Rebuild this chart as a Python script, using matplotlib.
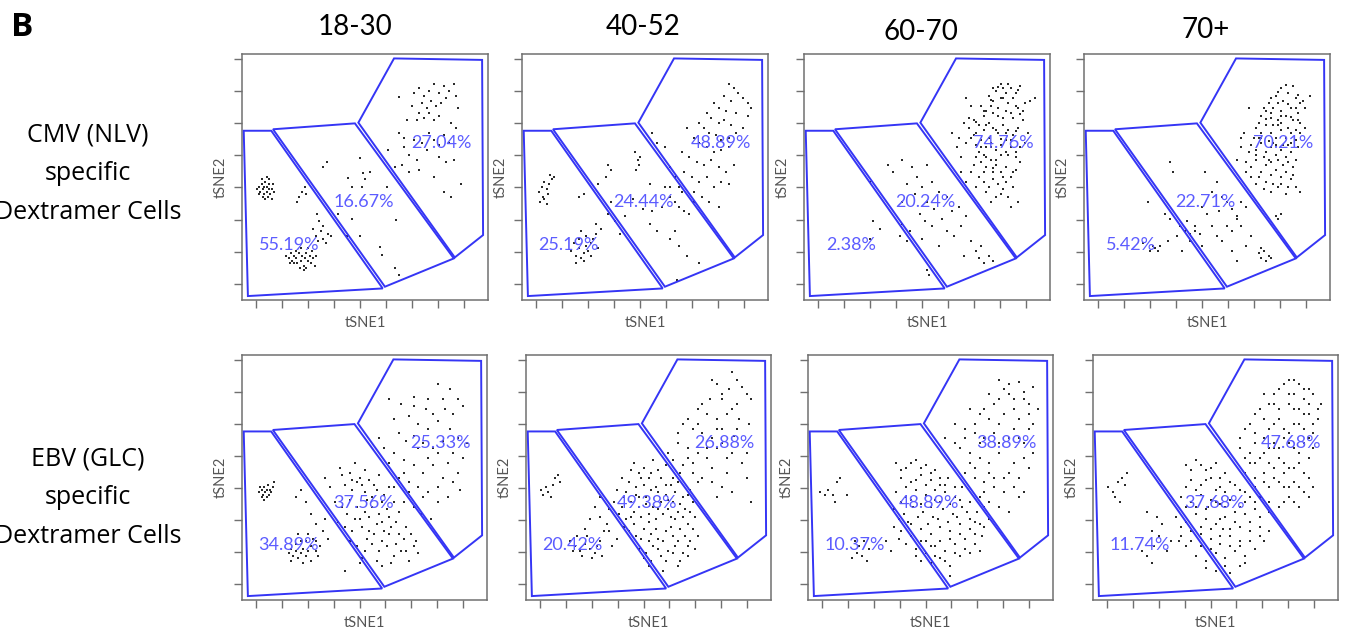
import matplotlib
matplotlib.use("Agg")
import matplotlib.pyplot as plt
from matplotlib.patches import Polygon

# ---- panel layout labels ----
age_groups = ["18-30", "40-52", "60-70", "70+"]
row_labels = ["CMV (NLV)\nspecific\nDextramer Cells", "EBV (GLC)\nspecific\nDextramer Cells"]

# gate percentages (left, middle, right gate) per row / age group
cmv_pct = [["55.19%", "16.67%", "27.04%"],
           ["25.19%", "24.44%", "48.89%"],
           ["2.38%", "20.24%", "74.76%"],
           ["5.42%", "22.71%", "70.21%"]]
ebv_pct = [["34.89%", "37.56%", "25.33%"],
           ["20.42%", "49.38%", "26.88%"],
           ["10.37%", "48.89%", "38.89%"],
           ["11.74%", "37.68%", "47.68%"]]

# gate outlines on the tSNE plane (0-100 scale)
gate_left = [(0.7, 68.8), (11.9, 68.8), (57.2, 4.7), (2.4, 1.6)]
gate_mid = [(12.6, 69.4), (45.9, 71.8), (86.1, 16.9), (58.1, 5.4)]
gate_right = [(47.3, 72.1), (61.8, 98.2), (97.6, 97.6), (98.0, 26.4), (86.5, 17.3)]

# ---- cell events (tSNE1, tSNE2) ----
cmv_18_30 = [
    (6, 45), (7, 46), (7.5, 44), (8, 47), (8.5, 45), (9, 43), (9, 46), (9.5, 48), (10, 44), (10, 46),
    (10.5, 42), (11, 45), (11, 47), (11.5, 43), (12, 45), (12, 41), (8, 49), (10, 50), (13, 44), (7, 43),
    (9.5, 41), (11, 49), (12.5, 47), (8.5, 42),
    (23, 42), (24.5, 44), (26, 43), (25.5, 46), (22.5, 40),
    (18, 18), (19, 17), (20, 19), (20.5, 16), (21, 18), (22, 17), (22.5, 15), (23, 19), (24, 16), (24.5, 18),
    (25, 14), (25.5, 17), (26, 19), (27, 16), (27.5, 18), (28, 15), (28.5, 20), (29, 17), (30, 18), (21, 15),
    (23.5, 13), (26, 13), (19.5, 15), (24, 21), (27, 21), (22, 20), (25, 12), (29.5, 14),
    (30, 26), (31, 24), (32, 28), (33, 25), (34, 23), (35, 27), (33, 30), (31.5, 32), (30.5, 35), (29, 29), (36, 26),
    (33, 54), (34.7, 56), (43, 49.5), (44.6, 46), (49.3, 51.5), (50, 49), (52, 52), (48, 57.6), (48.6, 46),
    (39, 35), (44.6, 33), (42.6, 26), (48, 26), (56, 21.7), (57, 18.3), (62.8, 32.5), (62, 13), (64, 10),
    (58.8, 46), (59.5, 61), (62, 54), (64, 82.6),
    (70, 84), (72, 86), (74, 83), (76, 85), (78, 88), (80, 84), (82, 87), (84, 85), (86, 88), (87, 83),
    (73, 80), (75, 78), (77, 81), (79, 79), (81, 80), (83, 82), (72, 76), (74, 74), (76, 76), (78, 73),
    (80, 75), (69, 79), (71, 73), (85, 72), (87, 70), (76, 68), (78, 65), (80, 63), (82, 67), (84, 64),
    (73, 64), (75, 61), (71, 57), (66, 62), (68, 59), (65, 55), (68, 52), (72, 53), (80, 58), (83, 56),
    (86, 57), (78, 50), (82, 44), (85, 42), (89, 47), (64, 68), (66, 66), (67, 73), (70, 65), (88, 78),
]
cmv_40_52 = [
    (7, 44), (8, 46), (8.5, 42), (9, 48), (10, 45), (10.5, 43), (11, 47), (9, 41), (12, 49), (11.5, 51),
    (13, 50), (7.5, 40), (10, 39),
    (20, 20), (22, 18), (23, 21), (24, 17), (25, 19), (26, 22), (27, 20), (28, 23), (29, 25), (30, 27),
    (31, 21), (25, 16), (21, 23), (23, 25), (28, 18), (24, 28), (26, 26), (32, 29), (30, 31), (22, 15),
    (23, 42), (25, 43), (34, 50), (36, 53), (35, 55), (31, 47), (36, 40), (35, 35),
    (46, 60), (47, 57), (47.5, 55), (48, 58), (46.5, 53), (52, 47), (58, 46), (60, 46), (45, 41), (49, 37),
    (53, 36), (57, 38), (60, 42), (64, 38), (68, 35), (52, 31), (55, 28), (60, 25), (62, 28), (64, 22),
    (67, 18), (72, 15), (38, 32), (42, 34), (40, 27), (63, 8), (65, 44), (70, 40),
    (84, 88), (86, 86), (88, 84), (82, 83), (85, 81), (90, 82), (92, 80), (93, 78), (78, 80), (80, 78),
    (83, 77), (87, 76), (75, 76), (77, 74), (80, 72), (82, 73), (85, 71), (72, 72), (74, 70), (76, 68),
    (79, 67), (81, 65), (84, 66), (87, 68), (70, 66), (72, 64), (75, 62), (78, 60), (81, 61), (84, 62),
    (68, 58), (71, 56), (74, 55), (77, 57), (80, 54), (83, 52), (86, 55), (66, 52), (69, 50), (72, 48),
    (75, 50), (78, 46), (81, 48), (84, 47), (70, 44), (73, 42), (76, 40), (80, 38), (64, 46), (62, 50),
    (60, 54), (58, 62), (55, 64), (53, 68), (65, 60), (67, 70), (90, 70), (92, 75), (62, 40), (66, 36),
]
cmv_60_70 = [
    (80, 88), (84, 86), (82, 84), (78, 85), (86, 84), (88, 87), (75, 83), (77, 81), (80, 82), (83, 80),
    (85, 82), (90, 80), (92, 81), (72, 79), (74, 77), (76, 79), (79, 78), (82, 77), (84, 76), (87, 78),
    (94, 82), (66, 82), (68, 79),
    (65, 72), (67, 70), (69, 73), (71, 71), (73, 69), (75, 72), (77, 70), (79, 68), (81, 71), (83, 69),
    (85, 67), (87, 70), (89, 73), (91, 68), (66, 64), (68, 66), (70, 63), (72, 65), (74, 62), (76, 64),
    (78, 61), (80, 63), (82, 65), (84, 62), (86, 60), (60, 68), (62, 62), (64, 58),
    (70, 58), (72, 56), (74, 54), (76, 57), (78, 55), (80, 52), (82, 54), (84, 50), (86, 53), (88, 56),
    (71, 50), (73, 48), (75, 46), (77, 49), (79, 47), (81, 45), (83, 42), (85, 46), (68, 52), (66, 48),
    (87, 40), (84, 38), (78, 42),
    (77, 86), (81, 86), (79, 75), (73, 75), (70, 68), (75, 66), (80, 59), (73, 59), (77, 52), (83, 59),
    (79, 86.5), (83, 88), (87, 85.5), (81, 82), (76, 81.5), (86, 79), (89, 77), (73, 77), (77, 76),
    (81, 74), (85, 74), (88, 75.5), (67, 74), (70, 72.5), (74, 71), (78, 69), (82, 68), (86, 68.5),
    (69, 67), (72, 62), (76, 62), (80, 65.5), (84, 65), (88, 62), (71, 60), (74, 58), (78, 57), (82, 60),
    (86, 58), (69, 55), (73, 52), (77, 53.5), (81, 50), (85, 52), (70, 46), (74, 44), (80, 43), (76, 40),
    (82, 48), (64, 52), (90, 64), (63, 66),
    (34, 55), (36, 52), (40, 57), (44, 54), (46, 50), (48, 46), (50, 55), (52, 48), (55, 44), (58, 42),
    (42, 47), (45, 43), (50, 40), (53, 37), (47, 35), (49, 32), (52, 30), (56, 33), (60, 36), (63, 38),
    (66, 34), (58, 28), (61, 26), (64, 30), (68, 24), (72, 22), (40, 40), (43, 28), (55, 22), (48, 25),
    (65, 18), (71, 17), (73, 15), (75, 18), (70, 20), (77, 16),
    (27, 48), (28, 32), (31, 29), (27, 25), (40, 31), (39, 26), (42, 24), (50, 12), (51, 10),
]
cmv_70_plus = [
    (80, 86), (83, 84), (85, 87), (78, 83), (81, 81), (86, 82), (88, 80), (90, 78), (92, 83), (75, 80),
    (77, 78), (80, 77), (84, 78), (87, 76), (72, 75), (74, 77), (76, 74), (79, 73), (82, 75), (85, 73),
    (88, 72), (70, 70), (72, 68), (74, 71), (76, 68), (78, 66), (80, 69), (82, 66), (84, 68), (86, 65),
    (68, 63), (70, 61), (72, 64), (74, 60), (76, 62), (78, 59), (80, 61), (82, 58), (84, 60), (86, 57),
    (66, 56), (68, 54), (70, 57), (72, 52), (74, 55), (76, 51), (78, 53), (80, 50), (82, 52), (84, 49),
    (86, 46), (70, 47), (73, 45), (76, 44), (79, 46), (82, 43), (88, 44), (64, 62), (62, 57), (65, 68),
    (90, 70), (67, 78), (77, 64), (81, 55), (75, 57), (79, 71), (83, 63), (71, 66),
    (79, 84.5), (82, 87.5), (87, 83.5), (76, 82), (79, 80), (83, 79.5), (86, 78), (89, 81), (73, 78),
    (76, 76), (80, 75), (84, 74.5), (87, 73), (71, 72), (74, 73.5), (77, 71), (80, 72), (83, 70),
    (86, 69), (69, 66), (72, 66), (75, 64.5), (78, 63), (81, 63), (84, 64), (87, 62), (67, 60), (70, 59),
    (73, 58), (76, 56), (79, 57), (83, 56), (85, 54), (68, 50), (71, 50), (74, 48), (77, 47), (80, 47),
    (83, 46), (85, 51), (66, 52), (88, 68), (64, 66),
    (71, 19), (72, 17), (73, 20), (74, 16), (75, 18), (72, 21), (76, 17), (78, 34), (80, 35), (79, 33),
    (35, 56), (36, 52), (49, 52), (52, 44), (54, 48), (56, 42), (58, 40), (55, 36), (60, 37), (62, 34),
    (64, 40), (66, 38), (58, 30), (60, 28), (62, 33), (64, 30), (48, 38), (50, 35), (52, 30), (54, 26),
    (45, 30), (43, 24), (48, 22), (56, 24), (60, 20), (62, 16), (66, 22), (68, 26), (40, 20), (42, 32),
    (39, 30), (41, 28), (43, 27), (45, 28), (47, 27), (38, 26),
    (24, 23), (28, 22), (29, 21), (30, 20), (31, 22), (27, 20), (34, 24), (35, 33), (33, 35), (26, 40),
]
ebv_18_30 = [
    (7, 44), (8, 45), (8.5, 43), (9, 46), (9.5, 44), (10, 42), (10, 45), (11, 43), (11.5, 45), (12, 44),
    (8, 42), (9, 41), (12.5, 46), (7.5, 46), (10.5, 47), (13, 48),
    (19, 19), (20, 21), (21, 18), (22, 20), (23, 17), (24, 19), (25, 21), (26, 18), (27, 20), (28, 16),
    (22, 23), (24, 24), (26, 24), (28, 22), (30, 20), (20, 16), (25, 15), (29, 25), (31, 18), (23, 27),
    (27, 27), (32, 22),
    (22, 42), (24, 45), (26, 40), (28, 35), (30, 31), (33, 28), (35, 25), (34, 33), (30, 24), (42, 12),
    (40, 54), (44, 52), (46, 56), (48, 50), (50, 53), (52, 49), (54, 47), (56, 51), (42, 47), (45, 45),
    (47, 48), (50, 44), (53, 42), (55, 45), (58, 43), (60, 46), (38, 40), (41, 38), (44, 41), (47, 38),
    (50, 36), (53, 38), (56, 35), (59, 37), (62, 40), (64, 36), (39, 32), (42, 30), (46, 33), (49, 30),
    (52, 28), (55, 31), (58, 28), (61, 30), (64, 27), (67, 30), (44, 24), (47, 22), (50, 20), (53, 23),
    (56, 20), (59, 22), (62, 18), (65, 20), (68, 16), (70, 22), (72, 19), (36, 46), (34, 50), (48, 15),
    (57, 14),
    (41, 51), (45, 49), (49, 47), (51, 41), (57, 40), (43, 35), (48, 33), (52, 34), (57, 32), (60, 34),
    (63, 32), (45, 28), (51, 25), (54, 27), (57, 24), (60, 27), (63, 23), (66, 25), (69, 27), (49, 17),
    (55, 16), (61, 15), (67, 20), (71, 24),
    (60, 82), (65, 80), (70, 83), (80, 88), (85, 86), (88, 82), (75, 78), (78, 76), (83, 78), (90, 79),
    (68, 75), (72, 72), (76, 70), (80, 73), (85, 70), (64, 68), (67, 65), (70, 67), (74, 64), (78, 62),
    (82, 65), (86, 60), (90, 58), (62, 60), (66, 57), (70, 55), (74, 52), (78, 55), (82, 50), (86, 48),
    (89, 45), (64, 50), (68, 48), (72, 46), (76, 44), (80, 40), (84, 42), (66, 40), (70, 38), (73, 35),
    (77, 33), (60, 56), (58, 62), (56, 66),
    (62, 74), (70, 79), (76, 82), (82, 82), (86, 76), (72, 62), (80, 60), (88, 66), (66, 52), (76, 58),
    (84, 56), (80, 46), (74, 42), (68, 44), (62, 46), (88, 52), (92, 64),
]
ebv_40_52 = [
    (6, 45), (7, 43), (8, 46), (9, 44), (10, 42), (11, 47), (12, 50), (13, 51), (14, 48),
    (18, 24), (20, 22), (22, 20), (24, 23), (26, 21), (28, 19), (25, 26), (23, 18), (21, 26), (30, 24),
    (32, 28), (27, 17), (29, 22), (19, 20), (24, 29), (33, 31), (31, 18), (35, 22), (37, 25), (26, 33),
    (28, 38), (30, 42),
    (44, 56), (48, 54), (52, 57), (46, 52), (50, 50), (54, 53), (57, 55), (42, 48), (45, 46), (48, 47),
    (51, 45), (54, 44), (57, 47), (60, 50), (63, 52), (40, 42), (43, 40), (46, 42), (49, 39), (52, 38),
    (55, 40), (58, 41), (61, 44), (64, 42), (38, 35), (41, 33), (44, 36), (47, 34), (50, 32), (53, 33),
    (56, 35), (59, 34), (62, 36), (65, 37), (68, 40), (42, 28), (45, 26), (48, 29), (51, 27), (54, 25),
    (57, 28), (60, 26), (63, 29), (66, 31), (69, 34), (46, 21), (49, 19), (52, 22), (55, 18), (58, 20),
    (61, 22), (64, 19), (67, 24), (70, 26), (50, 14), (56, 12), (62, 14), (36, 40), (34, 37), (66, 18),
    (39, 50), (43, 53), (47, 50), (51, 52), (55, 50), (59, 47), (62, 48), (37, 45), (41, 44), (45, 43),
    (49, 42), (53, 46), (57, 43), (60, 40), (63, 39), (66, 43), (39, 38), (43, 34), (46, 38), (50, 35),
    (54, 37), (58, 37), (61, 33), (64, 34), (67, 36), (40, 30), (44, 31), (47, 25), (50, 24), (53, 29),
    (56, 24), (59, 30), (62, 24), (65, 26), (68, 29), (48, 17), (51, 16), (54, 21), (57, 16), (60, 19),
    (63, 16), (66, 22), (69, 21), (34, 28), (30, 34),
    (84, 93), (78, 88), (83, 86), (88, 87), (90, 84), (75, 82), (80, 82), (86, 80), (92, 82), (70, 78),
    (74, 76), (78, 74), (82, 76), (87, 74), (91, 72), (64, 72), (68, 70), (72, 68), (76, 66), (80, 70),
    (85, 67), (62, 64), (66, 62), (70, 60), (74, 58), (78, 62), (82, 58), (88, 56), (60, 57), (64, 55),
    (68, 52), (72, 50), (76, 48), (80, 46), (84, 44), (92, 40), (67, 45),
    (76, 90), (86, 90), (72, 80), (84, 78), (80, 84), (66, 74), (70, 72), (78, 70), (86, 70), (62, 68),
    (74, 62), (80, 64), (84, 60), (90, 60), (68, 56), (76, 54), (82, 52), (90, 50), (70, 48), (78, 42),
    (66, 58), (58, 60),
]
ebv_60_70 = [
    (5, 44), (7, 43), (8, 45), (10, 43), (12, 48), (13, 50), (11, 40), (16, 43),
    (18, 17), (20, 19), (22, 18), (24, 16), (21, 22), (23, 24), (25, 21), (19, 24),
    (36, 56), (40, 54), (44, 57), (48, 55), (52, 53), (38, 50), (42, 48), (46, 51), (50, 49), (54, 47),
    (57, 50), (36, 44), (40, 42), (44, 45), (48, 43), (52, 41), (56, 44), (60, 42), (63, 46), (35, 37),
    (39, 35), (43, 38), (47, 36), (51, 34), (55, 37), (59, 35), (63, 38), (66, 40), (35, 30), (38, 28),
    (42, 31), (46, 29), (50, 27), (54, 30), (58, 28), (62, 31), (66, 33), (69, 36), (40, 23), (44, 21),
    (48, 24), (52, 22), (56, 20), (60, 23), (64, 25), (68, 27), (72, 30), (46, 16), (50, 15), (54, 17),
    (58, 14), (62, 18), (66, 19), (70, 20), (32, 24), (34, 20), (74, 33), (72, 38), (58, 10),
    (38, 53), (42, 56), (46, 54), (50, 52), (54, 50), (40, 46), (44, 49), (48, 47), (52, 45), (56, 47),
    (60, 46), (38, 40), (42, 41), (46, 39), (50, 38), (54, 40), (58, 39), (62, 41), (37, 33), (41, 32),
    (45, 34), (49, 31), (53, 33), (57, 32), (61, 34), (65, 36), (68, 32), (37, 25), (42, 26), (46, 24),
    (50, 22), (54, 24), (58, 25), (62, 27), (66, 29), (70, 31), (44, 18), (48, 19), (52, 18), (56, 16),
    (60, 19), (64, 21), (68, 23), (71, 26),
    (78, 90), (82, 88), (86, 89), (88, 85), (92, 87), (74, 84), (78, 82), (84, 82), (90, 80), (94, 78),
    (66, 78), (70, 76), (74, 74), (80, 76), (86, 74), (92, 72), (60, 72), (64, 70), (68, 68), (72, 66),
    (76, 68), (82, 66), (88, 64), (62, 62), (66, 60), (70, 58), (74, 56), (78, 60), (84, 56), (90, 54),
    (64, 52), (68, 50), (72, 48), (76, 46), (80, 50), (84, 46), (88, 44), (70, 42), (74, 40), (78, 38),
    (82, 36), (86, 42), (92, 60), (56, 66),
    (80, 86), (76, 80), (82, 84), (88, 82), (72, 78), (84, 78), (90, 76), (68, 72), (78, 72), (84, 70),
    (90, 70), (64, 66), (70, 64), (78, 64), (86, 66), (68, 54), (74, 52), (82, 52), (86, 50), (72, 44),
    (80, 44), (76, 50), (66, 56), (60, 64), (88, 58),
]
ebv_70_plus = [
    (6, 46), (8, 44), (10, 48), (12, 50), (13, 47), (9, 42), (11, 40), (14, 52),
    (20, 20), (22, 18), (25, 22), (27, 26), (24, 28), (28, 31), (26, 34), (22, 36), (30, 20), (32, 24),
    (24, 15),
    (38, 55), (42, 57), (46, 53), (50, 56), (54, 52), (40, 49), (44, 47), (48, 50), (52, 46), (56, 48),
    (60, 45), (36, 42), (40, 40), (44, 43), (48, 41), (52, 39), (56, 41), (60, 38), (64, 42), (34, 34),
    (38, 32), (42, 35), (46, 33), (50, 31), (54, 34), (58, 32), (62, 35), (66, 37), (36, 26), (40, 24),
    (44, 27), (48, 25), (52, 23), (56, 26), (60, 24), (64, 28), (68, 30), (42, 18), (46, 16), (50, 19),
    (54, 17), (58, 20), (62, 18), (66, 21), (70, 24), (50, 12), (56, 11), (60, 14), (47, 38), (53, 29),
    (40, 53), (44, 55), (48, 54), (52, 50), (38, 46), (42, 45), (46, 49), (50, 45), (54, 44), (58, 47),
    (62, 44), (38, 38), (42, 38), (46, 37), (50, 40), (54, 38), (58, 36), (62, 40), (66, 40), (36, 30),
    (40, 28), (44, 30), (48, 29), (52, 33), (56, 29), (60, 30), (64, 32), (68, 34), (38, 22), (44, 22),
    (48, 21), (52, 26), (56, 22), (60, 22), (64, 24), (68, 26), (72, 28), (46, 13), (54, 14), (62, 15),
    (35, 24),
    (80, 90), (84, 88), (88, 86), (76, 86), (82, 84), (86, 82), (90, 84), (93, 80), (72, 80), (76, 78),
    (80, 80), (84, 78), (88, 76), (92, 74), (66, 76), (70, 74), (74, 72), (78, 70), (82, 72), (86, 70),
    (90, 68), (62, 70), (66, 68), (70, 66), (74, 64), (78, 66), (82, 62), (86, 64), (60, 62), (64, 60),
    (68, 58), (72, 56), (76, 58), (80, 54), (84, 56), (88, 58), (62, 52), (66, 50), (70, 48), (74, 50),
    (78, 46), (82, 48), (86, 44), (90, 46), (68, 42), (72, 40), (76, 38), (80, 42), (84, 38), (70, 84),
    (74, 62), (78, 52), (64, 56), (88, 50),
    (78, 88), (82, 90), (86, 86), (74, 84), (80, 84), (88, 80), (92, 78), (68, 78), (74, 80), (82, 78),
    (86, 76), (90, 72), (64, 72), (72, 70), (76, 74), (80, 68), (84, 72), (88, 66), (66, 64), (72, 62),
    (76, 62), (80, 64), (84, 60), (90, 62), (62, 58), (66, 56), (70, 60), (74, 54), (78, 56), (82, 54),
    (86, 52), (66, 46), (72, 46), (76, 48), (80, 46), (84, 46), (88, 42), (72, 36), (78, 40), (82, 40),
    (70, 52), (60, 66),
]

events = [[cmv_18_30, cmv_40_52, cmv_60_70, cmv_70_plus],
          [ebv_18_30, ebv_40_52, ebv_60_70, ebv_70_plus]]
percents = [cmv_pct, ebv_pct]

# ---- drawing ----
W, H = 1347, 629
fig = plt.figure(figsize=(W / 100, H / 100), dpi=100)

panel_left = [[242, 522, 804, 1084], [242, 526, 808, 1093]]
panel_top = [54, 355]
panel_size = [(246, 246), (245, 245)]

gate_color = "#3535f5"
text_color = "#5c5cff"
frame_color = "#707070"
label_pos = [(19, 22.4), (49.5, 39.7), (81, 64)]
xticks = [5.7 + 10.57 * k for k in range(9)]
yticks = [6.6 + 13.06 * k for k in range(8)]

for r in range(2):
    for c in range(4):
        w, h = panel_size[r]
        x0 = panel_left[r][c] / W
        y0 = 1 - (panel_top[r] + h) / H
        ax = fig.add_axes([x0, y0, w / W, h / H])
        ax.set_xlim(0, 100)
        ax.set_ylim(0, 100)
        pts = events[r][c]
        ax.scatter([p[0] for p in pts], [p[1] for p in pts], s=0.9, c="#2b2b2b",
                   marker="s", linewidths=0, zorder=2)
        for g in (gate_left, gate_mid, gate_right):
            ax.add_patch(Polygon(g, closed=True, fill=False, edgecolor=gate_color,
                                 linewidth=1.4, zorder=3))
        for (lx, ly), txt in zip(label_pos, percents[r][c]):
            ax.text(lx, ly, txt, ha="center", va="center", color=text_color,
                    fontsize=13, family="Lato", zorder=4)
        ax.set_xticks(xticks)
        ax.set_yticks(yticks)
        ax.set_xticklabels([])
        ax.set_yticklabels([])
        ax.tick_params(direction="out", length=6, width=1, color=frame_color)
        for s in ax.spines.values():
            s.set_color(frame_color)
            s.set_linewidth(1.1)
        ax.set_xlabel("tSNE1", fontsize=10.5, color="#555555", family="Lato", labelpad=2)
        ax.set_ylabel("tSNE2", fontsize=10.5, color="#555555", family="Lato", labelpad=1)

# column headers
header_pos = [(355, 27), (643, 27), (921, 32), (1206, 30)]
for (hx, hy), txt in zip(header_pos, age_groups):
    fig.text(hx / W, 1 - hy / H, txt, ha="center", va="center", fontsize=20,
             family="Lato", color="black")

# row headers
for (ry, txt) in zip([174, 498], row_labels):
    fig.text(88 / W, 1 - ry / H, txt, ha="center", va="center", fontsize=18,
             family="Open Sans", color="black", linespacing=1.72)

fig.text(22 / W, 1 - 27 / H, "B", ha="center", va="center", fontsize=24,
         family="Open Sans", fontweight="bold", color="black")

fig.savefig("out.png", dpi=100)
